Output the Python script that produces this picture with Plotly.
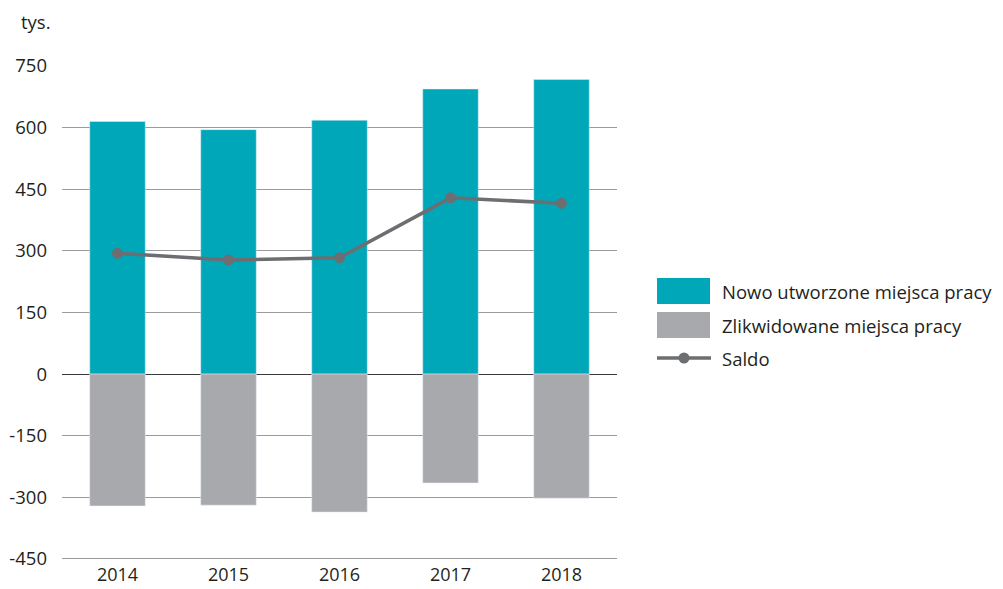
import plotly.graph_objects as go

years = ["2014", "2015", "2016", "2017", "2018"]
created = [615, 595, 618, 694, 717]
liquidated = [-321, -319, -336, -265, -302]
saldo = [294, 278, 283, 429, 416]
yticks = [-450, -300, -150, 0, 150, 300, 450, 600, 750]

teal = "#00a7b9"
gray = "#a7a9ac"
dark = "#6d6e71"
font = "Open Sans, Noto Sans, sans-serif"

# the page renders the figure with an 8px body offset
OFF = 8
L, R, T, B = 62 - OFF, 1003 - (617 - OFF), 66 - OFF, 589 - (561 - OFF)

fig = go.Figure()
fig.add_trace(go.Bar(x=years, y=created, marker_color=teal, name="Nowo utworzone miejsca pracy", showlegend=False))
fig.add_trace(go.Bar(x=years, y=liquidated, marker_color=gray, name="Zlikwidowane miejsca pracy", showlegend=False))
fig.add_trace(go.Scatter(x=years, y=saldo, mode="lines+markers", line=dict(color=dark, width=3.5),
                         marker=dict(color=dark, size=11), name="Saldo", showlegend=False))

fig.update_layout(
    width=1003, height=589,
    margin=dict(l=L, r=R, t=T, b=B),
    paper_bgcolor="white", plot_bgcolor="white",
    barmode="relative", bargap=0.5,
    font=dict(family=font, size=18, color="#231f20"),
    xaxis=dict(showgrid=False, showline=False, ticks="", tickfont=dict(size=18), automargin=False,
               ticklabelstandoff=1),
    yaxis=dict(range=[-455, 750], tickvals=yticks, ticktext=[str(v) for v in yticks],
               showgrid=True, gridcolor="#999b9e", gridwidth=1,
               zeroline=True, zerolinecolor="#3a3a3a", zerolinewidth=1,
               showline=False, ticks="", ticklabelstandoff=14, tickfont=dict(size=18.5),
               automargin=False),
)

W = 1003 - L - R
H = 589 - T - B

def px_x(px):
    return (px - OFF - L) / W

def px_y(py):
    return (589 - B - (py - OFF)) / H

fig.add_annotation(text="tys.", xref="paper", yref="paper", x=px_x(19), y=px_y(21),
                   xanchor="left", yanchor="middle", showarrow=False, font=dict(size=18.5))

items = [("Nowo utworzone miejsca pracy", teal, 291), ("Zlikwidowane miejsca pracy", gray, 325)]
for label, col, cy in items:
    fig.add_shape(type="rect", xref="paper", yref="paper",
                  x0=px_x(657), x1=px_x(710), y0=px_y(cy - 13), y1=px_y(cy + 13),
                  fillcolor=col, line=dict(width=0))
    fig.add_annotation(text=label, xref="paper", yref="paper", x=px_x(720), y=px_y(cy),
                       xanchor="left", yanchor="middle", showarrow=False, font=dict(size=18.5))
cy = 358
fig.add_shape(type="line", xref="paper", yref="paper", x0=px_x(657), x1=px_x(711), y0=px_y(cy), y1=px_y(cy),
              line=dict(color=dark, width=3.5))
fig.add_shape(type="circle", xref="paper", yref="paper", x0=px_x(678.5), x1=px_x(689.5),
              y0=px_y(cy - 5.5), y1=px_y(cy + 5.5), fillcolor=dark, line=dict(width=0))
fig.add_annotation(text="Saldo", xref="paper", yref="paper", x=px_x(720), y=px_y(cy),
                   xanchor="left", yanchor="middle", showarrow=False, font=dict(size=18.5))

fig.write_html("out.html")
